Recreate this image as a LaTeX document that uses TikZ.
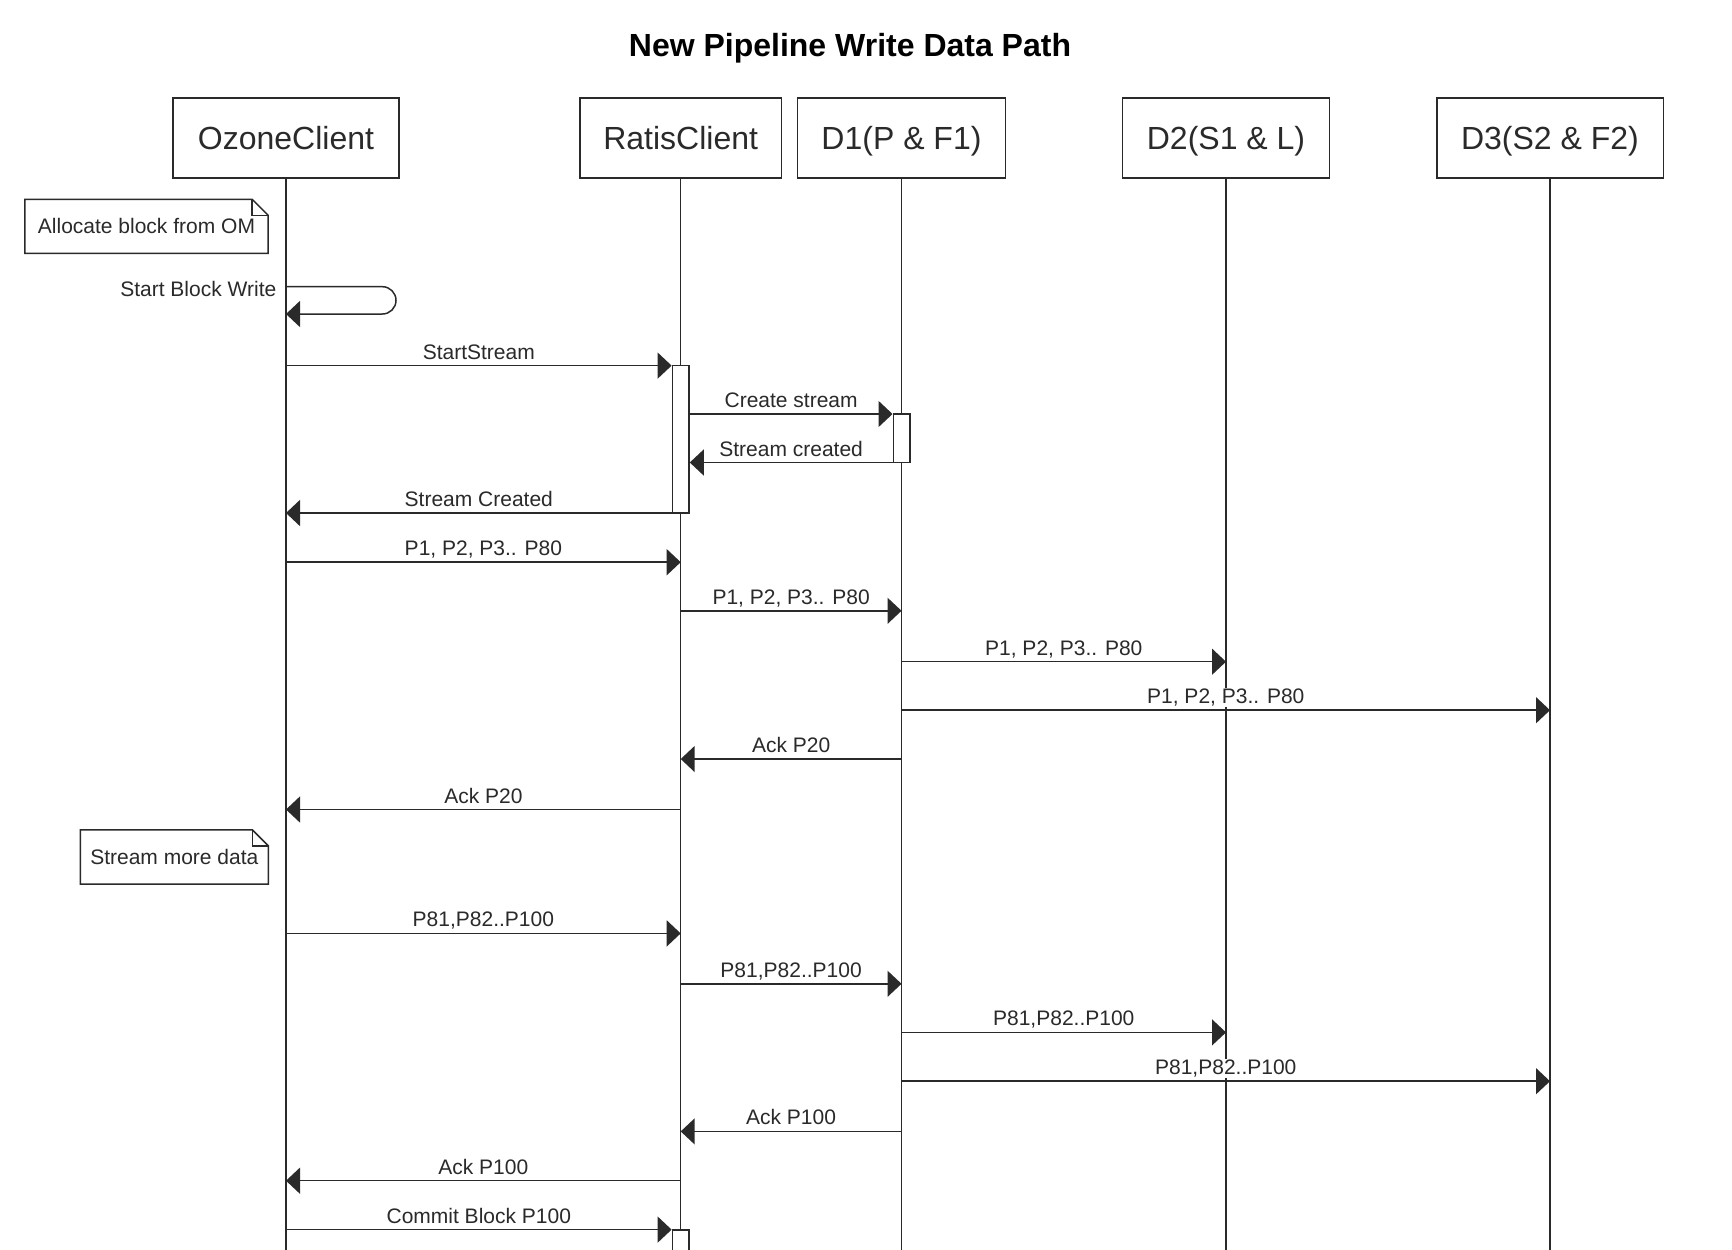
\documentclass[tikz,border=0pt]{standalone}
\usepackage{fontspec}
\setmainfont{Liberation Sans}
\usetikzlibrary{arrows.meta}
\definecolor{ink}{HTML}{2A2A2A}
\newcommand\seqmsg[4]{\draw[msg] (#2 |- 0,#1) -- node[lbl]{#4} (#3 |- 0,#1);}
\begin{document}
\begin{tikzpicture}[x=1pt,y=-1pt,
  part/.style={draw=ink, line width=1.5pt, minimum width=#1, minimum height=80pt,
    inner sep=0pt, text=ink, font=\fontsize{32}{38}\selectfont, text height=23pt, text depth=0pt},
  life/.style={draw=ink, line width=1.4pt},
  act/.style={draw=ink, fill=white, line width=1.5pt, minimum width=16.7pt, inner sep=0pt},
  msg/.style={draw=ink, line width=1.5pt, -{Triangle[length=14pt,width=26pt]}},
  lbl/.style={anchor=base, yshift=6.5pt, fill=white, inner sep=1pt, text=ink,
    font=\fontsize{21}{25}\selectfont},
  notebox/.style={inner sep=0pt, text=ink, font=\fontsize{21}{25}\selectfont},
  notedraw/.style={draw=ink, line width=1.5pt, fill=white, line join=miter}]
\clip (0,0) rectangle (1732,1250);
\fill[white] (0,0) rectangle (1732,1250);

% title
\node[anchor=base, text=black, font=\bfseries\fontsize{32}{38}\selectfont] (title) at (850,56.7) {New Pipeline Write Data Path};

% participants
\node[part=226pt] (oz) at (286,138) {OzoneClient};
\node[part=201.5pt] (rc) at (680.7,138) {RatisClient};
\node[part=208pt] (d1) at (901.5,138) {D1(P \& F1)};
\node[part=207pt] (d2) at (1226,138) {D2(S1 \& L)};
\node[part=226.5pt] (d3) at (1550,138) {D3(S2 \& F2)};

% lifelines
\foreach \p in {oz,rc,d1,d2,d3} {
  \coordinate (\p end) at (\p.south |- 0,1260);
  \draw[life] (\p.south) -- (\p end);
}

% activation bars
\node[act, minimum height=147.4pt] (act1) at (680.7,439.3) {};
\node[act, minimum height=48.5pt] (act2) at (901.6,438.3) {};
\node[act, minimum height=60pt] (act3) at (680.7,1260) {};

% note 1
\node[notebox, minimum width=243pt, minimum height=53.5pt] (n1) at (146.5,226.3) {Allocate block from OM};
\draw[notedraw] (n1.north west) -- ([xshift=-16pt]n1.north east) -- ([yshift=-16pt]n1.north east)
  -- (n1.south east) -- (n1.south west) -- cycle;
\draw[notedraw, fill=none] ([xshift=-16pt]n1.north east) -- ([xshift=-16pt,yshift=-16pt]n1.north east) -- ([yshift=-16pt]n1.north east);
\node[notebox] at (n1) {Allocate block from OM};

% self message
\draw[msg, rounded corners=13.6pt] (oz |- 0,286.7) -- (396,286.7) -- (396,314) -- (oz |- 0,314);
\node[notebox, anchor=base east] (sbw) at (276.5,296) {Start Block Write};

% messages
\seqmsg{365.6}{oz}{act1.west}{StartStream}
\seqmsg{414}{act1.east}{act2.west}{Create stream}
\seqmsg{462.5}{act2.west}{act1.east}{Stream created}
\seqmsg{513}{act1.west}{oz}{Stream Created}
\seqmsg{562.2}{oz}{rc}{P1, P2, P3.. P80}
\seqmsg{610.8}{rc}{d1}{P1, P2, P3.. P80}
\seqmsg{661.7}{d1}{d2}{P1, P2, P3.. P80}
\seqmsg{710.2}{d1}{d3}{P1, P2, P3.. P80}
\seqmsg{759}{d1}{rc}{Ack P20}
\seqmsg{809.5}{rc}{oz}{Ack P20}

% note 2
\node[notebox, minimum width=187.5pt, minimum height=54pt] (n2) at (174.3,857) {Stream more data};
\draw[notedraw] (n2.north west) -- ([xshift=-16pt]n2.north east) -- ([yshift=-16pt]n2.north east)
  -- (n2.south east) -- (n2.south west) -- cycle;
\draw[notedraw, fill=none] ([xshift=-16pt]n2.north east) -- ([xshift=-16pt,yshift=-16pt]n2.north east) -- ([yshift=-16pt]n2.north east);
\node[notebox] at (n2) {Stream more data};

\seqmsg{933.4}{oz}{rc}{P81,P82..P100}
\seqmsg{983.8}{rc}{d1}{P81,P82..P100}
\seqmsg{1032.4}{d1}{d2}{P81,P82..P100}
\seqmsg{1081.2}{d1}{d3}{P81,P82..P100}
\seqmsg{1131.4}{d1}{rc}{Ack P100}
\seqmsg{1180.7}{rc}{oz}{Ack P100}
\seqmsg{1229.6}{oz}{act3.west}{Commit Block P100}
\end{tikzpicture}
\end{document}
